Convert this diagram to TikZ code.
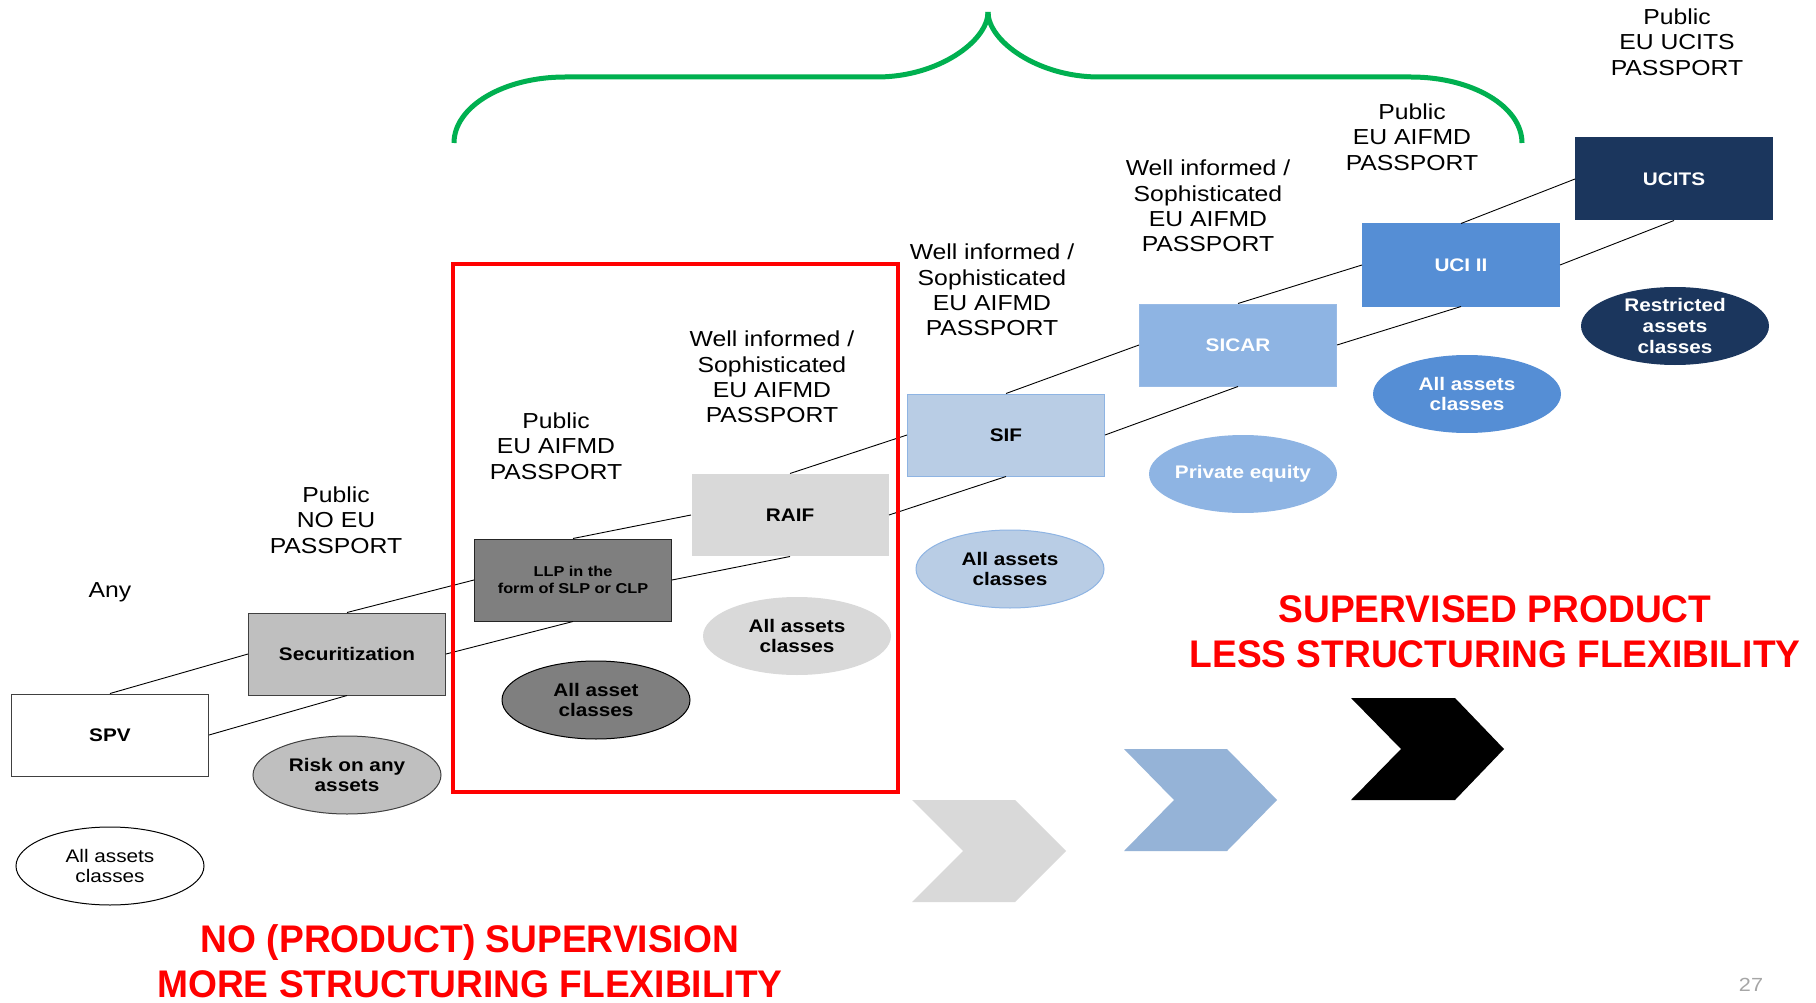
\documentclass[tikz,border=0pt]{standalone}
\usepackage{fontspec}
\setmainfont{Liberation Sans}[FakeStretch=1.14]
\newfontfamily\headfont{Liberation Sans}[FakeStretch=0.965]
\usetikzlibrary{shapes.geometric}

\definecolor{edgegray}{HTML}{404040}
\definecolor{secgray}{HTML}{BFBFBF}
\definecolor{llpgray}{HTML}{7F7F7F}
\definecolor{raifgray}{HTML}{D9D9D9}
\definecolor{sifblue}{HTML}{B9CDE5}
\definecolor{sifedge}{HTML}{8EB4E3}
\definecolor{sicarblue}{HTML}{8EB4E3}
\definecolor{uciblue}{HTML}{558ED5}
\definecolor{ucitsnavy}{HTML}{1B365D}
\definecolor{chevgray}{HTML}{D9D9D9}
\definecolor{chevblue}{HTML}{95B3D7}
\definecolor{bracegreen}{HTML}{00B050}
\definecolor{alertred}{HTML}{FF0000}
\definecolor{pagegray}{HTML}{A6A6A6}

\begin{document}
\begin{tikzpicture}[x=1pt,y=-1pt,
  boxfont/.style={font=\bfseries\fontsize{18.2}{20.7}\selectfont},
  box/.style={rectangle, minimum width=197pt, minimum height=82pt,
    inner sep=0pt, align=center, line width=1pt, boxfont},
  blob/.style={ellipse, minimum width=188pt, minimum height=78pt,
    inner sep=0pt, line width=1pt},
  blobtxt/.style={align=center, inner sep=0pt, boxfont},
  tag/.style={align=center, inner sep=0pt, font=\fontsize{21.7}{25.3}\selectfont},
  link/.style={draw=black, line width=0.9pt},
  slogan/.style={align=center, inner sep=0pt, text=alertred,
    font=\headfont\bfseries\fontsize{38.5}{45}\selectfont},
  brace/.style={draw=bracegreen, line width=5pt},
  frame/.style={draw=alertred, line width=3.5pt},
]
\useasboundingbox (0,0) rectangle (1816,1003);
\fill[white] (0,0) rectangle (1816,1003);

% product boxes, climbing from left to right
\node[box, draw=edgegray, fill=white]                (spv)   at (110,735)  {SPV};
\node[box, draw=edgegray, fill=secgray]              (sec)   at (347,654)  {Securitization};
\node[box, draw=black!85, fill=llpgray,
      font=\bfseries\fontsize{14.3}{17}\selectfont]  (llp)   at (573,580)  {LLP in the\\form of SLP or CLP};
\node[box, fill=raifgray]                            (raif)  at (790,515)  {RAIF};
\node[box, draw=sifedge, fill=sifblue]               (sif)   at (1006,435) {SIF};
\node[box, draw=sicarblue!90!white, fill=sicarblue, text=white] (sicar) at (1238,345) {SICAR};
\node[box, draw=uciblue, fill=uciblue, text=white]   (uci)   at (1461,265) {UCI II};
\node[box, draw=ucitsnavy, fill=ucitsnavy, text=white] (ucits) at (1674,179) {UCITS};

% connectors between consecutive products
\foreach \a/\b in {spv/sec, sec/llp, llp/raif, raif/sif, sif/sicar, sicar/uci, uci/ucits} {
  \draw[link] (\a.north) -- (\b.west);
  \draw[link] (\a.east) -- (\b.south);
}

% eligible assets
\node[blob, draw=black, fill=white,
      label={[blobtxt, font=\fontsize{18.2}{20.7}\selectfont]center:{All assets\\classes}}] (a-spv) at (110,866) {};
\node[blob, draw=edgegray, fill=secgray,
      label={[blobtxt]center:{Risk on any\\assets}}] (a-sec) at (347,775) {};
\node[blob, draw=black, fill=llpgray,
      label={[blobtxt]center:{All asset\\classes}}] (a-llp) at (596,700) {};
\node[blob, fill=raifgray,
      label={[blobtxt]center:{All assets\\classes}}] (a-raif) at (797,636) {};
\node[blob, draw=sifedge, fill=sifblue,
      label={[blobtxt]center:{All assets\\classes}}] (a-sif) at (1010,569) {};
\node[blob, fill=sicarblue,
      label={[blobtxt, text=white]center:{Private equity}}] (a-sicar) at (1243,474) {};
\node[blob, fill=uciblue,
      label={[blobtxt, text=white]center:{All assets\\classes}}] (a-uci) at (1467,394) {};
\node[blob, fill=ucitsnavy,
      label={[blobtxt, text=white]center:{Restricted\\assets\\classes}}] (a-ucits) at (1675,326) {};

% investor type and passport
\node[tag] (t-spv)   at (110,592)  {Any};
\node[tag] (t-sec)   at (336,520)  {Public\\NO EU\\PASSPORT};
\node[tag] (t-llp)   at (556,446)  {Public\\EU AIFMD\\PASSPORT};
\node[tag] (t-raif)  at (772,377)  {Well informed /\\Sophisticated\\EU AIFMD\\PASSPORT};
\node[tag] (t-sif)   at (992,290)  {Well informed /\\Sophisticated\\EU AIFMD\\PASSPORT};
\node[tag] (t-sicar) at (1208,206) {Well informed /\\Sophisticated\\EU AIFMD\\PASSPORT};
\node[tag] (t-uci)   at (1412,137) {Public\\EU AIFMD\\PASSPORT};
\node[tag] (t-ucits) at (1677,42)  {Public\\EU UCITS\\PASSPORT};

% Luxembourg partnership / RAIF frame
\draw[frame] (453,264) rectangle (898,792);

% green brace over the AIFMD passported vehicles
\draw[brace] (454,143) .. controls (454,106.5) and (503.7,77) .. (565,77)
  -- (877,77) .. controls (938.3,77) and (988,41) .. (988,12);
\draw[brace] (1522,143) .. controls (1522,106.5) and (1472.3,77) .. (1411,77)
  -- (1099,77) .. controls (1037.7,77) and (988,41) .. (988,12);

% chevrons
\fill[chevgray] (912,800) -- (1015,800) -- (1066,851) -- (1015,902) -- (912,902) -- (963,851) -- cycle;
\fill[chevblue] (1124,749) -- (1227,749) -- (1277,800) -- (1227,851) -- (1124,851) -- (1174,800) -- cycle;
\fill[black] (1351,698) -- (1455,698) -- (1504,749) -- (1455,800) -- (1351,800) -- (1401,749) -- cycle;

% headlines
\node[slogan] (h-right) at (1495,632) {SUPERVISED PRODUCT\\LESS STRUCTURING FLEXIBILITY};
\node[slogan] (h-left)  at (470,961)  {NO (PRODUCT) SUPERVISION\\MORE STRUCTURING FLEXIBILITY};

% page number
\node[text=pagegray, font=\fontsize{19}{21}\selectfont] (pg) at (1751,985) {27};
\end{tikzpicture}
\end{document}
